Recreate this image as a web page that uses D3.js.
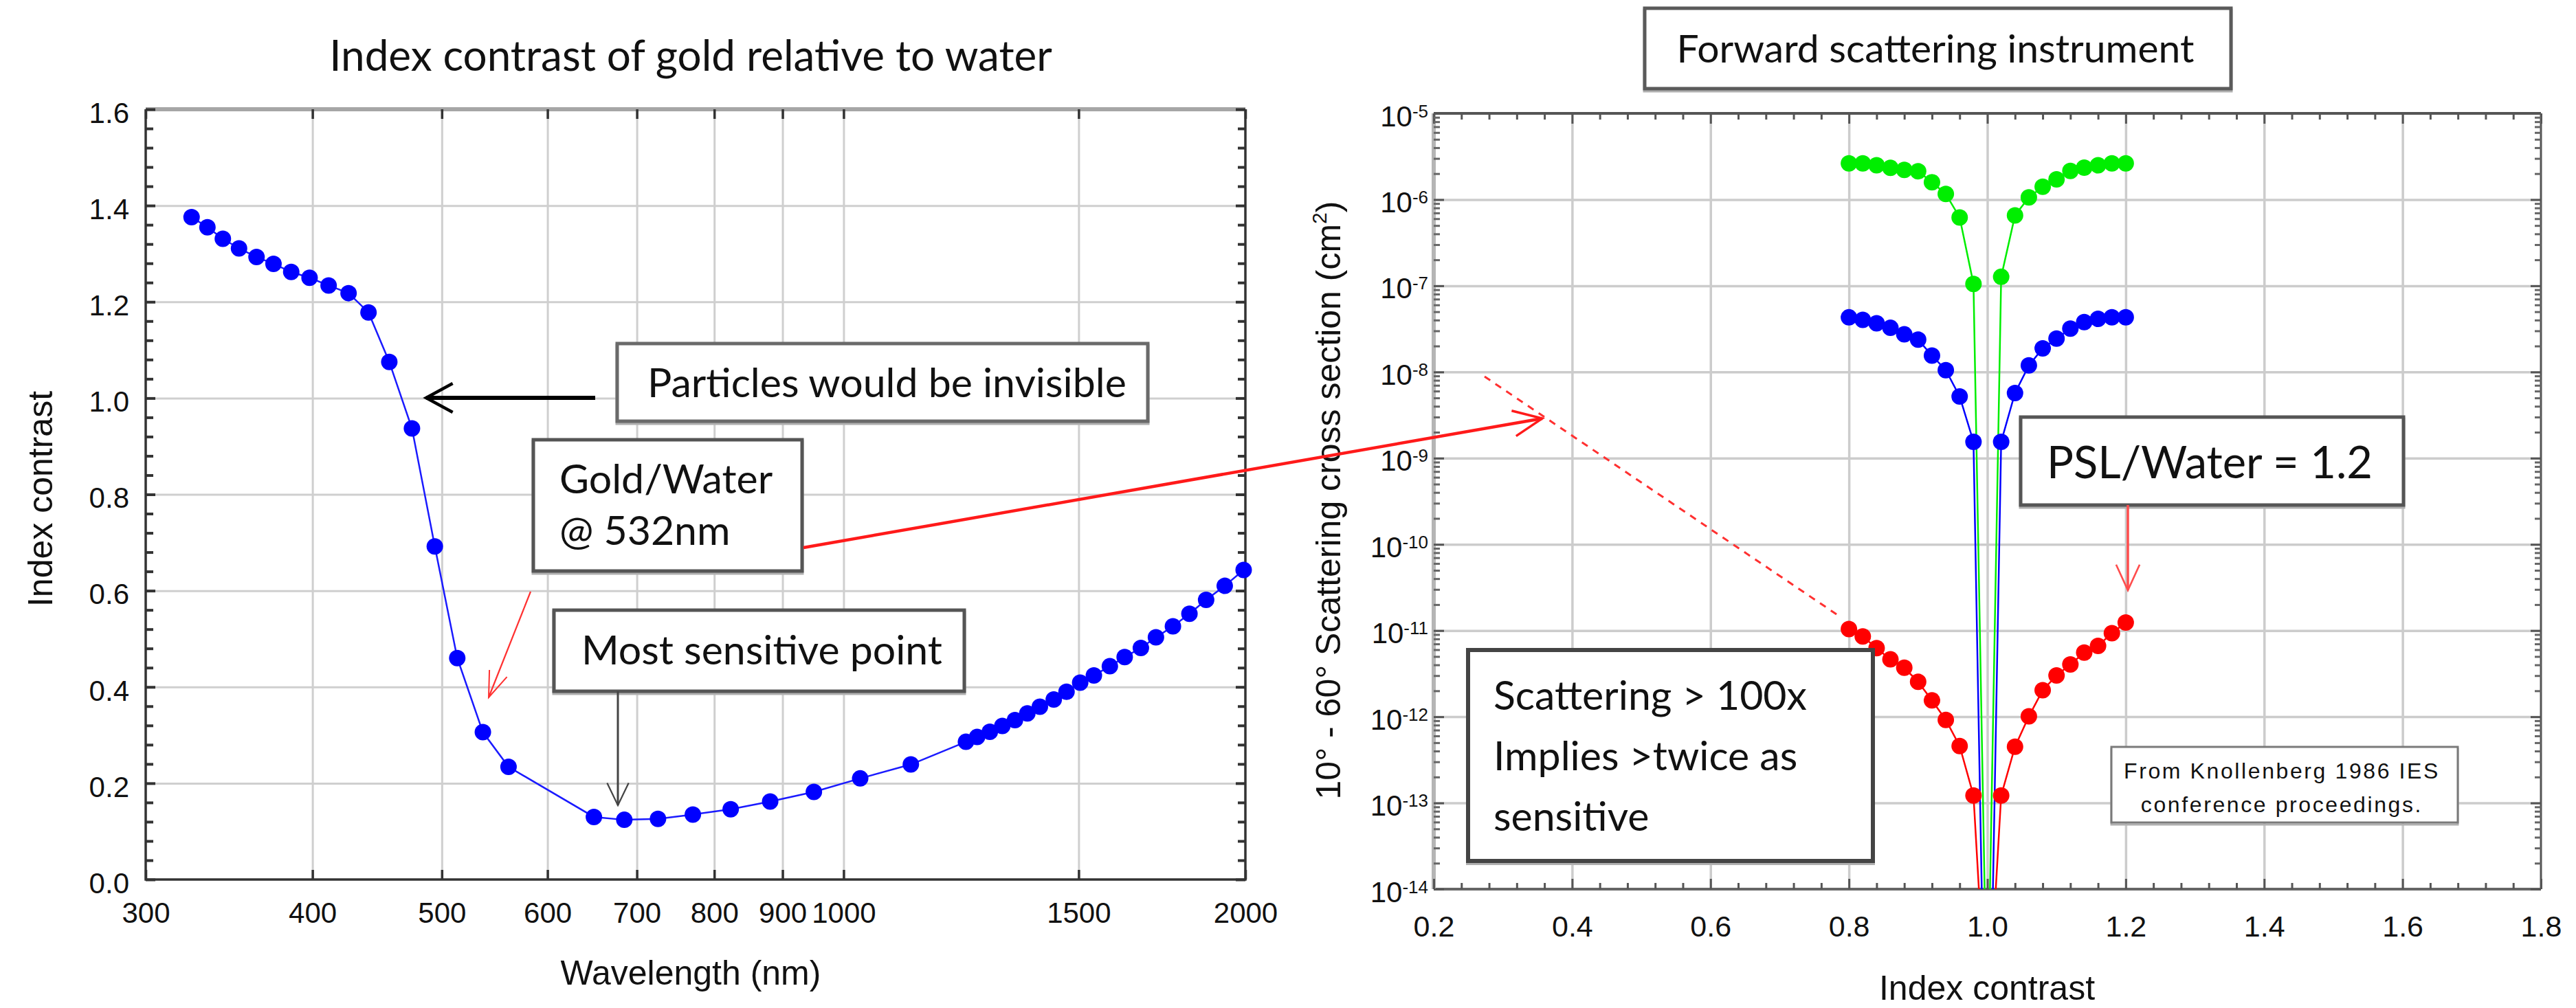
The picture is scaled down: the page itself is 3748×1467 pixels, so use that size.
<!DOCTYPE html>
<html>
<head>
<meta charset="utf-8">
<script src="https://cdn.jsdelivr.net/npm/d3@7"></script>
<style>
  body { margin: 0; background: #fff; }
  text { font-family: "Liberation Sans", Arial, sans-serif; fill: #111; }
  .note { font-family: Lato, "Open Sans", sans-serif; }
</style>
</head>
<body>
<svg id="chart" width="3748" height="1467"></svg>
<script>
// ---- left chart: index contrast of gold vs water ----
const wavelength = [324.7, 333.7, 342.7, 352.4, 363.2, 374.0, 385.6, 398.0, 411.3, 425.7, 440.6, 456.7, 474.9,
  494, 513.5, 536.7, 561, 650, 685, 726, 771, 823, 881, 950, 1029, 1123,
  1235, 1259, 1287, 1315, 1344, 1373, 1403, 1437, 1469, 1504, 1540, 1583, 1624, 1670, 1714, 1765, 1816, 1869, 1930, 1994];
const contrast = [1.376, 1.355, 1.331, 1.311, 1.293, 1.279, 1.262, 1.250, 1.234, 1.218, 1.178, 1.075, 0.937,
  0.692, 0.460, 0.306, 0.234, 0.130, 0.124, 0.126, 0.135, 0.146, 0.162, 0.182, 0.210, 0.239,
  0.286, 0.296, 0.307, 0.319, 0.331, 0.345, 0.359, 0.374, 0.390, 0.409, 0.424, 0.443, 0.462, 0.481, 0.503, 0.526, 0.552, 0.581, 0.610, 0.643];
const wlTicks = [300, 400, 500, 600, 700, 800, 900, 1000, 1500, 2000];
const contrastTicks = [0, 0.2, 0.4, 0.6, 0.8, 1.0, 1.2, 1.4, 1.6];

// ---- right chart: forward scattering instrument ----
const indexContrast = [0.80, 0.82, 0.84, 0.86, 0.88, 0.90, 0.92, 0.94, 0.96, 0.98, 1.00,
  1.02, 1.04, 1.06, 1.08, 1.10, 1.12, 1.14, 1.16, 1.18, 1.20];
const greenSeries = [2.63e-6, 2.63e-6, 2.5e-6, 2.33e-6, 2.21e-6, 2.13e-6, 1.59e-6, 1.16e-6, 6.2e-7, 1.05e-7, 2e-16,
  1.27e-7, 6.56e-7, 1.06e-6, 1.41e-6, 1.72e-6, 2.15e-6, 2.35e-6, 2.5e-6, 2.63e-6, 2.63e-6];
const blueSeries = [4.3e-8, 4.02e-8, 3.67e-8, 3.25e-8, 2.73e-8, 2.37e-8, 1.55e-8, 1.05e-8, 5.2e-9, 1.55e-9, 3e-18,
  1.55e-9, 5.7e-9, 1.19e-8, 1.88e-8, 2.44e-8, 3.18e-8, 3.79e-8, 4.13e-8, 4.31e-8, 4.31e-8];
const redSeries = [1.04e-11, 8.55e-12, 6.24e-12, 4.63e-12, 3.7e-12, 2.54e-12, 1.55e-12, 9.2e-13, 4.57e-13, 1.22e-13, 2e-16,
  1.22e-13, 4.49e-13, 1.01e-12, 2.03e-12, 3.01e-12, 4.05e-12, 5.55e-12, 6.64e-12, 9.33e-12, 1.24e-11];
const contrastTicks2 = [0.2, 0.4, 0.6, 0.8, 1.0, 1.2, 1.4, 1.6, 1.8];
const decadeTicks = [1e-14, 1e-13, 1e-12, 1e-11, 1e-10, 1e-9, 1e-8, 1e-7, 1e-6, 1e-5];

const svg = d3.select("#chart");

function styleTicks(g, color, width) {
  g.select(".domain").remove();
  g.selectAll(".tick line").attr("stroke", color).attr("stroke-width", width);
}

function arrow(g, a, b, color, w, head, spread) {
  const ang = Math.atan2(b[1] - a[1], b[0] - a[0]);
  g.append("line").attr("x1", a[0]).attr("y1", a[1]).attr("x2", b[0]).attr("y2", b[1])
    .attr("stroke", color).attr("stroke-width", w);
  const p1 = [b[0] - head * Math.cos(ang - spread), b[1] - head * Math.sin(ang - spread)];
  const p2 = [b[0] - head * Math.cos(ang + spread), b[1] - head * Math.sin(ang + spread)];
  g.append("path").attr("d", d3.line()([p1, b, p2])).attr("fill", "none")
    .attr("stroke", color).attr("stroke-width", Math.max(2, w * 0.75));
}

// white box with a soft grey edge like the slide callouts
function box(g, x, y, w, h, stroke, sw) {
  g.append("rect").attr("x", x).attr("y", y + 3).attr("width", w).attr("height", h)
    .attr("fill", "none").attr("stroke", "#b0b0b0").attr("stroke-width", sw);
  g.append("rect").attr("x", x).attr("y", y).attr("width", w).attr("height", h)
    .attr("fill", "#fff").attr("stroke", stroke).attr("stroke-width", sw);
}

// ================= LEFT =================
const L = {left: 212, right: 1812, top: 159, bottom: 1280};
const x1 = d3.scaleLog().domain([300, 2000]).range([L.left, L.right]);
const y1 = d3.scaleLinear().domain([0, 1.6]).range([L.bottom, L.top]);
const minor1 = d3.range(0, 1.6001, 0.04).filter(v => Math.abs(v / 0.2 - Math.round(v / 0.2)) > 1e-6);

const gl = svg.append("g");

// grid
gl.append("g").attr("transform", `translate(0,${L.bottom})`)
  .call(d3.axisBottom(x1).tickValues(wlTicks.slice(1, -1)).tickSize(-(L.bottom - L.top)).tickFormat(""))
  .call(g => styleTicks(g, "#cfcfcf", 3));
gl.append("g").attr("transform", `translate(${L.left},0)`)
  .call(d3.axisLeft(y1).tickValues(contrastTicks.slice(1, -1)).tickSize(-(L.right - L.left)).tickFormat(""))
  .call(g => styleTicks(g, "#cfcfcf", 3));

// frame
gl.append("line").attr("x1", L.left).attr("x2", L.right).attr("y1", L.top).attr("y2", L.top)
  .attr("stroke", "#a6a6a6").attr("stroke-width", 6);
gl.append("path").attr("d", `M${L.left},${L.top}V${L.bottom}H${L.right}V${L.top}`)
  .attr("fill", "none").attr("stroke", "#333").attr("stroke-width", 3.5);

// ticks + labels
gl.append("g").attr("transform", `translate(0,${L.bottom})`)
  .call(d3.axisBottom(x1).tickValues(wlTicks).tickFormat(d3.format("d")).tickSizeInner(-14).tickSizeOuter(0).tickPadding(33))
  .call(g => styleTicks(g, "#333", 3.5))
  .call(g => g.selectAll("text").attr("font-size", 42).attr("fill", "#222"));
gl.append("g").attr("transform", `translate(0,${L.top})`)
  .call(d3.axisTop(x1).tickValues(wlTicks).tickFormat("").tickSizeInner(-14).tickSizeOuter(0))
  .call(g => styleTicks(g, "#333", 3.5));
gl.append("g").attr("transform", `translate(${L.left},0)`)
  .call(d3.axisLeft(y1).tickValues(contrastTicks).tickFormat(d3.format(".1f")).tickSizeInner(-14).tickSizeOuter(0).tickPadding(24))
  .call(g => styleTicks(g, "#333", 4))
  .call(g => g.selectAll("text").attr("font-size", 42).attr("dy", "0.46em").attr("fill", "#222"));
gl.append("g").attr("transform", `translate(${L.left},0)`)
  .call(d3.axisLeft(y1).tickValues(minor1).tickFormat("").tickSize(-11))
  .call(g => styleTicks(g, "#333", 4));
gl.append("g").attr("transform", `translate(${L.right},0)`)
  .call(d3.axisRight(y1).tickValues(contrastTicks).tickFormat("").tickSize(-14))
  .call(g => styleTicks(g, "#333", 4));
gl.append("g").attr("transform", `translate(${L.right},0)`)
  .call(d3.axisRight(y1).tickValues(minor1).tickFormat("").tickSize(-11))
  .call(g => styleTicks(g, "#333", 4));

// data
const leftPts = wavelength.map((w, i) => [w, contrast[i]]);
gl.append("path").datum(leftPts)
  .attr("d", d3.line().x(d => x1(d[0])).y(d => y1(d[1])))
  .attr("fill", "none").attr("stroke", "#1a1aff").attr("stroke-width", 2.5);
gl.append("g").selectAll("circle").data(leftPts).join("circle")
  .attr("cx", d => x1(d[0])).attr("cy", d => y1(d[1])).attr("r", 12).attr("fill", "#0000ff");

// titles
gl.append("text").attr("class", "note").attr("x", 1005).attr("y", 103).attr("text-anchor", "middle")
  .attr("font-size", 62).text("Index contrast of gold relative to water");
gl.append("text").attr("x", 1005).attr("y", 1433).attr("text-anchor", "middle")
  .attr("font-size", 50).text("Wavelength (nm)");
gl.append("text").attr("transform", "translate(76,726) rotate(-90)").attr("text-anchor", "middle")
  .attr("font-size", 50).text("Index contrast");

// ================= RIGHT =================
const R = {left: 2086, right: 3697, top: 165, bottom: 1294};
const x2 = d3.scaleLinear().domain([0.2, 1.8]).range([R.left, R.right]);
const y2 = d3.scaleLog().domain([1e-14, 1e-5]).range([R.bottom, R.top]);
const minorX2 = d3.range(0.2, 1.8001, 0.04).filter(v => Math.abs(v / 0.2 - Math.round(v / 0.2)) > 1e-6);
const minorY2 = [];
for (let k = -14; k < -5; k++) for (let m = 2; m <= 9; m++) minorY2.push(m * Math.pow(10, k));

const gr = svg.append("g");
gr.append("defs").append("clipPath").attr("id", "clipR").append("rect")
  .attr("x", R.left).attr("y", R.top).attr("width", R.right - R.left).attr("height", R.bottom - R.top);

gr.append("g").attr("transform", `translate(0,${R.bottom})`)
  .call(d3.axisBottom(x2).tickValues(contrastTicks2.slice(1, -1)).tickSize(-(R.bottom - R.top)).tickFormat(""))
  .call(g => styleTicks(g, "#cccccc", 3.5));
gr.append("g").attr("transform", `translate(${R.left},0)`)
  .call(d3.axisLeft(y2).tickValues(decadeTicks.slice(1, -1)).tickSize(-(R.right - R.left)).tickFormat(""))
  .call(g => styleTicks(g, "#cccccc", 3.5));

// frame
gr.append("line").attr("x1", R.left).attr("x2", R.right).attr("y1", R.top).attr("y2", R.top).attr("stroke", "#555").attr("stroke-width", 4);
gr.append("line").attr("x1", R.left).attr("x2", R.right).attr("y1", R.bottom).attr("y2", R.bottom).attr("stroke", "#666").attr("stroke-width", 4);
gr.append("line").attr("x1", R.left).attr("x2", R.left).attr("y1", R.top).attr("y2", R.bottom).attr("stroke", "#b5b5b5").attr("stroke-width", 6);
gr.append("line").attr("x1", R.right).attr("x2", R.right).attr("y1", R.top).attr("y2", R.bottom).attr("stroke", "#555").attr("stroke-width", 3);

// x ticks
gr.append("g").attr("transform", `translate(0,${R.bottom})`)
  .call(d3.axisBottom(x2).tickValues(contrastTicks2).tickFormat(d3.format(".1f")).tickSizeInner(-15).tickSizeOuter(0).tickPadding(38))
  .call(g => styleTicks(g, "#555", 3))
  .call(g => g.selectAll("text").attr("font-size", 43).attr("fill", "#222"));
gr.append("g").attr("transform", `translate(0,${R.bottom})`)
  .call(d3.axisBottom(x2).tickValues(minorX2).tickFormat("").tickSize(-9))
  .call(g => styleTicks(g, "#555", 3));
gr.append("g").attr("transform", `translate(0,${R.top})`)
  .call(d3.axisTop(x2).tickValues(contrastTicks2).tickFormat("").tickSize(-15))
  .call(g => styleTicks(g, "#555", 3));
gr.append("g").attr("transform", `translate(0,${R.top})`)
  .call(d3.axisTop(x2).tickValues(minorX2).tickFormat("").tickSize(-9))
  .call(g => styleTicks(g, "#555", 3));

// y ticks
gr.append("g").attr("transform", `translate(${R.left},0)`)
  .call(d3.axisLeft(y2).tickValues(decadeTicks).tickFormat(() => "10").tickSizeInner(-15).tickSizeOuter(0).tickPadding(8))
  .call(g => styleTicks(g, "#555", 3))
  .call(g => g.selectAll("text").attr("font-size", 42).attr("dy", 18).attr("fill", "#222")
    .each(function(d) {
      d3.select(this).append("tspan").attr("font-size", 26).attr("dy", -13).text(Math.round(Math.log10(d)));
    }));
[[R.left, d3.axisLeft], [R.right, d3.axisRight]].forEach(([xx, ax]) => {
  gr.append("g").attr("transform", `translate(${xx},0)`)
    .call(ax(y2).tickValues(minorY2).tickFormat("").tickSize(-9))
    .call(g => styleTicks(g, "#666", 3));
});
gr.append("g").attr("transform", `translate(${R.right},0)`)
  .call(d3.axisRight(y2).tickValues(decadeTicks).tickFormat("").tickSize(-15))
  .call(g => styleTicks(g, "#555", 3));

// series
const series = [
  {values: greenSeries, color: "#00ee00"},
  {values: blueSeries, color: "#0000ff"},
  {values: redSeries, color: "#ff0000"}
];
const plot = gr.append("g").attr("clip-path", "url(#clipR)");
series.forEach(s => {
  const pts = indexContrast.map((c, i) => [c, s.values[i]]);
  plot.append("path").datum(pts)
    .attr("d", d3.line().x(d => x2(d[0])).y(d => y2(d[1])))
    .attr("fill", "none").attr("stroke", s.color).attr("stroke-width", 2.5);
  plot.append("g").selectAll("circle").data(pts).join("circle")
    .attr("cx", d => x2(d[0])).attr("cy", d => y2(d[1])).attr("r", 12).attr("fill", s.color);
});

gr.append("text").attr("x", 2891).attr("y", 1455).attr("text-anchor", "middle")
  .attr("font-size", 50).text("Index contrast");
const yl = gr.append("text").attr("transform", "translate(1950,728) rotate(-90)").attr("text-anchor", "middle")
  .attr("font-size", 50);
yl.append("tspan").text("10° - 60° Scattering cross section (cm");
yl.append("tspan").attr("font-size", 30).attr("dy", -20).text("2");
yl.append("tspan").attr("dy", 20).text(")");

// ================= ANNOTATIONS =================
const ga = svg.append("g");

// left chart notes
box(ga, 898, 500, 772, 113, "#6a6a6a", 5);
ga.append("text").attr("class", "note").attr("x", 942).attr("y", 578).attr("font-size", 59).text("Particles would be invisible");
arrow(ga, [866, 579], [620, 579], "#000", 6, 44, 0.5);

box(ga, 776, 640, 391, 191, "#555", 5);
ga.append("text").attr("class", "note").attr("x", 814).attr("y", 718).attr("font-size", 59).text("Gold/Water");
ga.append("text").attr("class", "note").attr("x", 814).attr("y", 793).attr("font-size", 59).text("@ 532nm");
arrow(ga, [772, 861], [711, 1015], "#ff3030", 2.2, 40, 0.35);

box(ga, 806, 888, 597, 118, "#555", 5);
ga.append("text").attr("class", "note").attr("x", 846).attr("y", 967).attr("font-size", 59).text("Most sensitive point");
arrow(ga, [899, 1006], [899, 1172], "#444", 3, 36, 0.45);

// right chart notes
box(ga, 2393, 12, 853, 117, "#5a5a5a", 5);
ga.append("text").attr("class", "note").attr("x", 2816).attr("y", 91).attr("text-anchor", "middle")
  .attr("font-size", 57).text("Forward scattering instrument");

box(ga, 2940, 607, 557, 128, "#555", 5);
ga.append("text").attr("class", "note").attr("x", 2978).attr("y", 696).attr("font-size", 65).text("PSL/Water = 1.2");
arrow(ga, [3096, 735], [3096, 859], "#ff4d4d", 3.5, 41, 0.43);

ga.append("line").attr("x1", 2160).attr("y1", 548).attr("x2", 2678).attr("y2", 898)
  .attr("stroke", "#ff3030").attr("stroke-width", 3).attr("stroke-dasharray", "10,9");

box(ga, 2136, 946, 589, 307, "#444", 6);
[["Scattering > 100x", 1033], ["Implies >twice as", 1121], ["sensitive", 1209]].forEach(([t, yy]) => {
  ga.append("text").attr("class", "note").attr("x", 2173).attr("y", yy).attr("font-size", 59).text(t);
});

box(ga, 3072, 1087, 504, 110, "#7a7a7a", 3);
ga.append("text").attr("x", 3320).attr("y", 1133).attr("text-anchor", "middle").attr("font-size", 32)
  .attr("letter-spacing", 2.6).text("From Knollenberg 1986 IES");
ga.append("text").attr("x", 3320).attr("y", 1182).attr("text-anchor", "middle").attr("font-size", 32)
  .attr("letter-spacing", 2.6).text("conference proceedings.");

// long red arrow from Gold/Water box into right chart
arrow(ga, [1169, 797], [2244, 609], "#ff1a1a", 4.5, 46, 0.42);
</script>
</body>
</html>
